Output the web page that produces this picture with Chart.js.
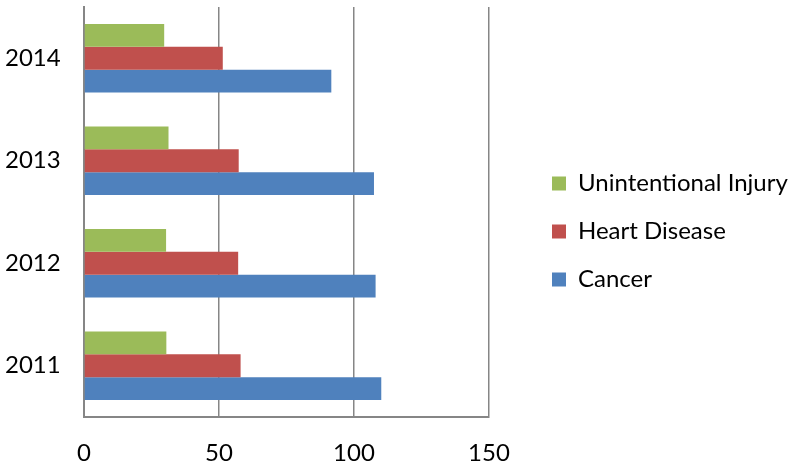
<!DOCTYPE html>
<html><head><meta charset="utf-8">
<script src="https://cdn.jsdelivr.net/npm/chart.js@4.4.1/dist/chart.umd.min.js"></script>
<style>html,body{margin:0;padding:0;background:#fff}</style>
</head><body>
<canvas id="c" width="791" height="464"></canvas>
<script>
const years = ['2014', '2013', '2012', '2011'];
const injury = [29.7, 31.3, 30.4, 30.5];
const heart = [51.4, 57.3, 57.1, 58.0];
const cancer = [91.6, 107.4, 108.0, 110.1];
const xTicks = [0, 50, 100, 150];
const seriesNames = ['Unintentional Injury', 'Heart Disease', 'Cancer'];
const seriesColors = ['#9BBB59', '#C0504D', '#4F81BD'];

const FONT = 'Lato';
const FS = 24;
const AXIS = '#868686';

const legendShift = {
  id: 'legendShift',
  afterLayout(chart) {
    const l = chart.legend;
    l.left += 39;
    l.right = chart.width;
    l.top -= 4; l.bottom -= 4;
  }
};

new Chart(document.getElementById('c'), {
  type: 'bar',
  data: {
    labels: years,
    datasets: [injury, heart, cancer].map((d, i) => ({
      label: seriesNames[i],
      data: d,
      backgroundColor: seriesColors[i],
      borderWidth: 0,
      categoryPercentage: 0.667,
      barPercentage: 1.0
    }))
  },
  options: {
    indexAxis: 'y',
    responsive: false,
    animation: false,
    devicePixelRatio: 1,
    layout: { padding: { top: 7, left: 5, right: 52, bottom: 0 } },
    scales: {
      x: {
        min: 0, max: 150,
        afterBuildTicks(scale) { scale.ticks = xTicks.map(v => ({ value: v })); },
        afterFit(scale) { scale.paddingLeft = 0; scale.paddingRight = 0; scale.height = 47; },
        grid: { color: AXIS, lineWidth: 1.5, drawTicks: false, tickLength: 0 },
        border: { display: true, color: AXIS, width: 2 },
        ticks: { font: { family: FONT, size: FS }, color: '#000', padding: 22, maxRotation: 0 }
      },
      y: {
        afterFit(scale) { scale.paddingTop = 0; scale.paddingBottom = 0; scale.width = 79; },
        grid: { display: false, drawTicks: false, tickLength: 0 },
        border: { display: true, color: AXIS, width: 2 },
        ticks: { font: { family: FONT, size: FS }, color: '#000', padding: 0, crossAlign: 'far' }
      }
    },
    plugins: {
      tooltip: { enabled: false },
      legend: {
        position: 'right',
        maxWidth: 250,
        labels: {
          font: { family: FONT, size: FS },
          color: '#000',
          boxWidth: 14,
          boxHeight: 14,
          padding: 24
        }
      }
    }
  },
  plugins: [legendShift]
});
</script>
</body></html>
